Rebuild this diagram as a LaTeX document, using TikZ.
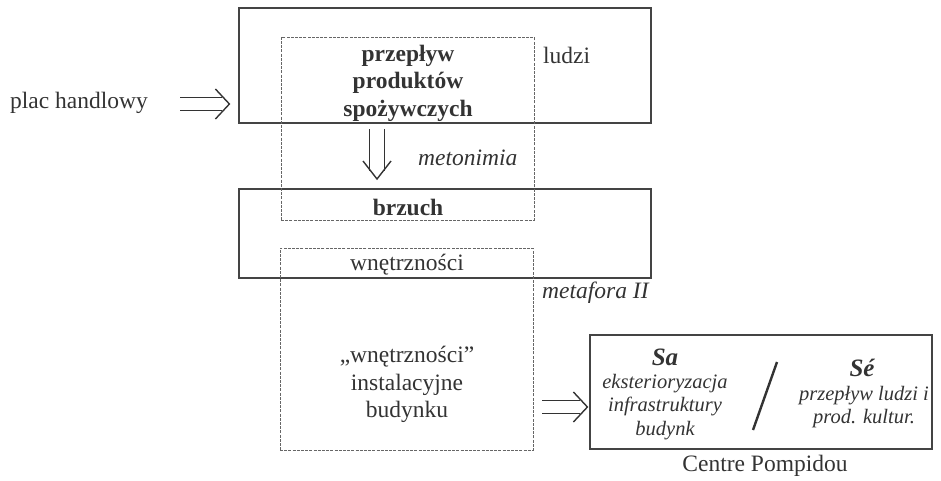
\documentclass[tikz,border=0pt]{standalone}
\usepackage{fontspec}
\setmainfont{Liberation Serif}
\definecolor{ink}{HTML}{333333}
\definecolor{edge}{HTML}{444444}
\definecolor{dash}{HTML}{666666}
\tikzset{
  solidbox/.style={draw=edge, line width=1.2pt, inner sep=0pt},
  dashbox/.style={draw=dash, line width=0.7pt, dash pattern=on 3pt off 1.2pt, inner sep=0pt},
  txt/.style={text=ink, font=\fontsize{23.5}{27.5}\selectfont, align=center, inner sep=0pt},
  boldtxt/.style={txt, font=\fontsize{23.5}{27.5}\selectfont\bfseries},
  itxt/.style={txt, font=\fontsize{23.5}{27.5}\selectfont\itshape},
  smalli/.style={txt, font=\fontsize{20.5}{23.5}\selectfont\itshape},
  bigbi/.style={txt, font=\fontsize{25}{28}\selectfont\bfseries\itshape},
  % shaft of a double arrow; the head is drawn by the chevron pic
  shaft/.style={draw=ink, double, double distance=12pt, line width=1.3pt},
  chevron/.pic={\draw[ink, line width=1.4pt, line join=miter]
    (-14,-15) -- (0,0) -- (-14,15);},
  tallchevron/.pic={\draw[ink, line width=1.4pt, line join=miter]
    (-18,-14) -- (0,0) -- (-18,14);},
}
\begin{document}
\begin{tikzpicture}[x=1pt, y=-1pt]
  \useasboundingbox (0,0) rectangle (941,480);

  % solid frames
  \node[solidbox, minimum width=412pt, minimum height=115pt] (top) at (445,65.5) {};
  \node[solidbox, minimum width=412pt, minimum height=89pt] (belly) at (445,233.5) {};
  % dashed frames
  \node[dashbox, minimum width=253pt, minimum height=183pt] (flow) at (407.5,128.5) {};
  \node[dashbox, minimum width=253pt, minimum height=202pt] (guts) at (406.5,349) {};
  % Centre Pompidou frame
  \node[solidbox, minimum width=342pt, minimum height=114pt] (pomp) at (761,392) {};

  % texts
  \node[txt] (plac) at (79,103) {plac handlowy};
  \node[boldtxt] (prod) at (408,83) {przepływ\\produktów\\spożywczych};
  \node[txt, anchor=west] (ludzi) at (543,55) {ludzi};
  \node[itxt, anchor=west] (meton) at (418,158) {metonimia};
  \node[boldtxt] (brzuch) at (408,207) {brzuch};
  \node[txt] (wn) at (407,265) {wnętrzności};
  \node[itxt, anchor=west] (metaf) at (542,293) {metafora II};
  \node[txt, text depth=0pt] (inst) at (407,382) {„wnętrzności”\\instalacyjne\\budynku};

  \node[bigbi] (sa) at (665,357) {Sa};
  \node[smalli] (satxt) at (665,407) {eksterioryzacja\\infrastruktury\\budynk};
  \node[bigbi] (se) at (862,368) {Sé};
  \node[smalli] (setxt) at (864,407) {przepływ ludzi i\\prod. kultur.};
  \coordinate (slashlo) at (753,430);
  \coordinate (slashhi) at (777,362);
  \draw[ink, line width=2.4pt] (slashlo) -- (slashhi);
  \node[txt] (cp) at (765,466) {Centre Pompidou};

  % double arrows
  \coordinate (a1) at (180,104);
  \coordinate (a1tip) at ([xshift=-9pt]top.west |- a1);
  \draw[shaft, shorten >=7pt] (a1) -- (a1tip);
  \pic at (a1tip) {chevron};

  \coordinate (d1) at (377,129);
  \coordinate (d2) at (377,179);
  \draw[shaft, double distance=14pt, shorten >=8pt] (d1) -- (d2);
  \pic[rotate=-90] at (d2) {tallchevron};

  \coordinate (r1) at (542,407);
  \coordinate (r1tip) at ([xshift=-2pt]pomp.west |- r1);
  \draw[shaft, shorten >=7pt] (r1) -- (r1tip);
  \pic at (r1tip) {chevron};
\end{tikzpicture}
\end{document}
